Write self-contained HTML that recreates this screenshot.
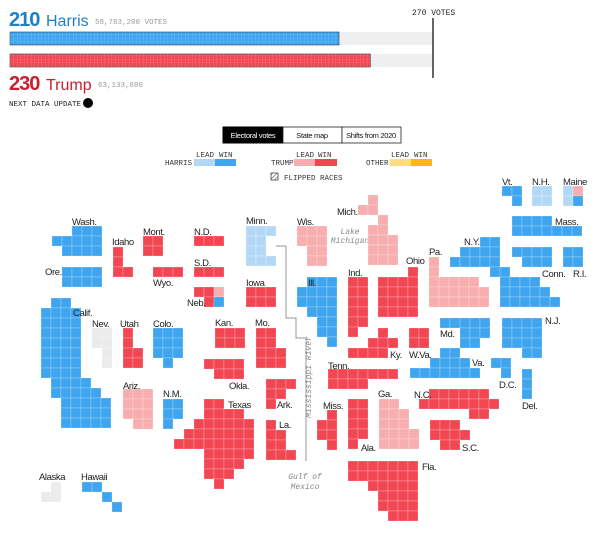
<!DOCTYPE html>
<html><head><meta charset="utf-8">
<style>
html,body{margin:0;padding:0;background:#fff;}
body{width:600px;height:534px;overflow:hidden;font-family:"Liberation Sans",sans-serif;}
svg{display:block}
.lbl{font-family:"Liberation Sans",sans-serif;font-size:9.5px;fill:#222;letter-spacing:-0.4px}
.mono{font-family:"Liberation Mono",monospace;}
.it{font-family:"Liberation Mono",monospace;font-style:italic;font-size:8px;fill:#888}
</style></head>
<body>
<svg id="chart" width="600" height="534" viewBox="0 0 600 534">
<defs>
<pattern id="gridp" width="3.5" height="3.5" patternUnits="userSpaceOnUse">
<path d="M3.5 0V3.5M0 3.5H3.5" stroke="#fff" stroke-opacity="0.35" stroke-width="0.6" fill="none"/>
</pattern>
<pattern id="hatch" width="3" height="3" patternUnits="userSpaceOnUse" patternTransform="rotate(45)">
<line x1="0" y1="0" x2="0" y2="3" stroke="#444" stroke-width="1"/>
</pattern>
</defs>
<g>
<text x="9" y="26" font-size="20" font-weight="bold" fill="#1d7fc4" letter-spacing="-1">210</text>
<text x="46" y="26" font-size="16" fill="#1d7fc4">Harris</text>
<text x="95" y="24" class="mono" font-size="7.5" fill="#999">58,783,200 VOTES</text>
<text x="412" y="15" class="mono" font-size="8" fill="#222">270 VOTES</text>
<g id="bars"></g>
<text x="9" y="90" font-size="20" font-weight="bold" fill="#c8202e" letter-spacing="-1">230</text>
<text x="46" y="90" font-size="16" fill="#c8202e">Trump</text>
<text x="98" y="87" class="mono" font-size="7.5" fill="#999">63,133,880</text>
<text x="9" y="106" class="mono" font-size="7.5" fill="#222">NEXT DATA UPDATE</text>
<circle cx="88" cy="103" r="5" fill="#000"/>
</g>
<g>
<rect x="223" y="127" width="60" height="16" fill="#000" stroke="#000"/>
<text x="253" y="138" font-size="7.5" fill="#fff" text-anchor="middle" letter-spacing="-0.3">Electoral votes</text>
<rect x="283" y="127" width="59" height="16" fill="#fff" stroke="#222" stroke-width="0.8"/>
<text x="312" y="138" font-size="7.5" fill="#111" text-anchor="middle" letter-spacing="-0.3">State map</text>
<rect x="342" y="127" width="59" height="16" fill="#fff" stroke="#222" stroke-width="0.8"/>
<text x="371" y="138" font-size="7.5" fill="#111" text-anchor="middle" letter-spacing="-0.3">Shifts from 2020</text>
</g>
<g class="mono" font-size="7.5" fill="#333">
<text x="196" y="157">LEAD</text><text x="219" y="157">WIN</text>
<text x="165" y="165">HARRIS</text>
<rect x="194" y="159" width="21" height="7" fill="#b3d8f6"/><rect x="215" y="159" width="21" height="7" fill="#3ea5ee"/>
<text x="296" y="157">LEAD</text><text x="318" y="157">WIN</text>
<text x="271" y="165">TRUMP</text>
<rect x="294" y="159" width="21" height="7" fill="#f8aeae"/><rect x="315" y="159" width="22" height="7" fill="#f24653"/>
<text x="391" y="157">LEAD</text><text x="414" y="157">WIN</text>
<text x="366" y="165">OTHER</text>
<rect x="390" y="159" width="21" height="7" fill="#fddc85"/><rect x="411" y="159" width="21" height="7" fill="#fdb714"/>
<rect x="271" y="173" width="7" height="7" fill="url(#hatch)" stroke="#444" stroke-width="0.8"/>
<text x="284" y="180">FLIPPED RACES</text>
</g>
<path d="M276 246H286V318H296V338H306V461" fill="none" stroke="#999" stroke-width="1"/>
<text class="it" x="350" y="234" text-anchor="middle" font-size="7.5">Lake</text>
<text class="it" x="350" y="243" text-anchor="middle" font-size="7.5">Michigan</text>
<text class="it" transform="translate(311,377) rotate(-90)" text-anchor="middle">Mississippi River</text>
<text class="it" x="305" y="479" text-anchor="middle">Gulf of</text>
<text class="it" x="305" y="489" text-anchor="middle">Mexico</text>
<g id="map"></g>
</svg>
<script>
const harrisEV = 210;
const trumpEV = 230;
const thresholdEV = 270;
const stateNames = ["Wash.","Ore.","Idaho","Mont.","N.D.","S.D.","Wyo.","Neb.","Minn.","Iowa","Calif.","Nev.","Utah","Colo.","Ariz.","N.M.","Kan.","Okla.","Mo.","Ark.","La.","Texas","Alaska","Hawaii","Wis.","Mich.","Ill.","Ind.","Ohio","Ky.","W.Va.","Pa.","N.Y.","Vt.","N.H.","Maine","Mass.","Conn.","R.I.","N.J.","Md.","Va.","D.C.","Del.","Tenn.","N.C.","S.C.","Ga.","Ala.","Miss.","Fla."];
const stateStatus = ["D","D","R","R","R","R","R","R","DL","R","D","U","R","D","RL","D","R","R","R","R","R","R","U","D","RL","RL","D","R","R","R","R","RL","D","D","DL","DL","D","D","D","D","D","D","D","D","R","R","R","RL","R","R","R"];
const stateOrigin = [[52,226],[62,267],[113,247],[143,236],[194,236],[194,267],[153,267],[194,287],[246,226],[246,287],[41,298],[92,328],[123,328],[153,328],[123,389],[163,399],[215,328],[204,359],[256,328],[266,379],[266,420],[174,399],[41,482],[82,482],[297,226],[358,195],[297,277],[348,277],[378,267],[348,328],[409,328],[429,257],[450,237],[502,186],[532,186],[563,186],[512,216],[512,247],[563,247],[502,318],[440,318],[410,348],[491,358],[522,369],[328,369],[419,389],[430,420],[379,399],[348,399],[317,410],[348,461]];
const stateCells = [
 [[2,0,3,1],[0,1,5,1],[1,2,4,1]],
 [[0,0,4,2]],
 [[0,0,1,3],[1,2,1,1]],
 [[0,0,2,2]],
 [[0,0,3,1]],
 [[0,0,3,1]],
 [[0,0,3,1]],
 [[0,0,2,1],[2,0,1,1,"RL"],[1,1,1,1],[2,1,1,1,"D"]],
 [[0,0,3,1],[0,1,2,2],[0,3,3,1]],
 [[0,0,3,2]],
 [[1,0,2,1],[0,1,4,7],[1,8,4,1],[1,9,5,1],[2,10,5,3]],
 [[0,0,2,2],[1,2,1,2]],
 [[0,0,1,4],[1,2,1,2]],
 [[0,0,3,3],[1,3,1,1]],
 [[0,0,3,3],[1,3,2,1]],
 [[0,0,2,2],[0,2,1,1]],
 [[0,0,3,2]],
 [[0,0,4,1],[1,1,3,1]],
 [[0,0,2,2],[0,2,3,2]],
 [[0,0,3,1],[0,1,2,1],[0,2,1,1]],
 [[0,0,1,1],[0,1,2,2],[0,3,3,1]],
 [[3,0,2,1],[3,1,4,1],[2,2,6,1],[1,3,7,1],[0,4,8,1],[3,5,5,1],[3,6,4,1],[3,7,3,1],[4,8,1,1]],
 [[1,0,1,1],[0,1,2,1]],
 [[0,0,2,1],[2,1,1,1],[3,2,1,1]],
 [[0,0,3,2],[1,2,2,2]],
 [[1,0,1,1],[0,1,2,1],[2,2,1,1],[1,3,2,1],[1,4,3,3]],
 [[1,0,3,1],[0,1,4,2],[1,3,3,1],[2,4,2,2],[3,6,1,1]],
 [[0,0,2,5],[0,5,1,1]],
 [[3,0,1,1],[0,1,4,4]],
 [[3,0,1,1],[2,1,3,1],[0,2,4,1]],
 [[0,0,2,2]],
 [[0,0,1,2],[0,2,5,1],[0,3,6,2]],
 [[3,0,2,1],[1,1,4,1],[0,2,5,1],[4,3,2,1],[5,4,4,1],[5,5,5,1],[5,6,6,1]],
 [[0,0,2,1],[1,1,1,1]],
 [[0,0,2,2]],
 [[0,0,1,2],[1,0,1,1,"RL"],[1,1,1,1,"D"]],
 [[0,0,4,1],[0,1,7,1]],
 [[0,0,4,1],[1,1,3,1]],
 [[0,0,2,2]],
 [[0,0,4,3],[2,3,2,1]],
 [[0,0,5,1],[2,1,3,1],[2,2,2,1]],
 [[3,0,2,1],[2,1,4,1],[0,2,7,1]],
 [[0,0,2,1],[1,1,1,1]],
 [[0,0,1,3]],
 [[0,0,7,1],[0,1,4,1]],
 [[1,0,6,1],[0,1,8,1],[5,2,2,1]],
 [[0,0,3,1],[0,1,4,1],[1,2,2,1]],
 [[0,0,2,1],[0,1,3,2],[0,3,4,2]],
 [[0,0,2,4],[0,4,1,1]],
 [[1,0,1,1],[0,1,2,2],[1,3,1,1]],
 [[0,0,7,2],[2,2,5,1],[3,3,4,2],[4,5,3,1]]
];
const labelPos = [[72,225],[45,275],[112,245],[143,235],[194,235],[194,266],[153,286],[187,306],[246,224],[246,286],[73,316],[92,327],[120,327],[153,327],[215,326],[255,326],[229,389],[228,408],[123,389],[163,397],[277,408],[279,428],[39,480],[81,480],[297,225],[337,215],[308,286],[348,276],[406,264],[429,255],[464,245],[542,277],[573,277],[502,185],[532,185],[563,185],[555,225],[545,324],[440,337],[390,358],[409,358],[472,366],[328,369],[499,388],[522,409],[414,398],[378,397],[323,409],[361,451],[462,451],[422,470]];
const labelText = ["Wash.","Ore.","Idaho","Mont.","N.D.","S.D.","Wyo.","Neb.","Minn.","Iowa","Calif.","Nev.","Utah","Colo.","Kan.","Mo.","Okla.","Texas","Ariz.","N.M.","Ark.","La.","Alaska","Hawaii","Wis.","Mich.","Ill.","Ind.","Ohio","Pa.","N.Y.","Conn.","R.I.","Vt.","N.H.","Maine","Mass.","N.J.","Md.","Ky.","W.Va.","Va.","Tenn.","D.C.","Del.","N.C.","Ga.","Miss.","Ala.","S.C.","Fla."];

const colors = {D:"#3ea5ee",DL:"#b3d8f6",R:"#f24653",RL:"#f8aeae",U:"#ebebeb"};
const NS = "http://www.w3.org/2000/svg";
const CELL = 10;
function mk(tag, attrs){const e=document.createElementNS(NS,tag);for(const k in attrs)e.setAttribute(k,attrs[k]);return e;}

const barX0 = 10, barX270 = 433;
function xEV(v){return barX0 + v*(barX270-barX0)/thresholdEV;}
const bars = document.getElementById('bars');
[[32,harrisEV,"#3ea5ee","harris-bar"],[54,trumpEV,"#f24653","trump-bar"]].forEach(function(b){
  const bg = mk('rect',{x:barX0,y:b[0],width:xEV(thresholdEV)-barX0,height:13,fill:"#eeeeee"});
  
  
  bars.appendChild(bg);
  const bgg = mk('rect',{x:barX0,y:b[0],width:xEV(thresholdEV)-barX0,height:13,fill:"url(#gridp)"});
  bars.appendChild(bgg);
  const r = mk('rect',{x:barX0,y:b[0],width:xEV(b[1])-barX0,height:13,fill:b[2],stroke:"#2a3a4a","stroke-width":"0.6"});
  
  
  bars.appendChild(r);
  const g = mk('rect',{x:barX0,y:b[0],width:xEV(b[1])-barX0,height:13,fill:"url(#gridp)"});
  bars.appendChild(g);
});
const tl = mk('line',{x1:xEV(thresholdEV),x2:xEV(thresholdEV),y1:18,y2:78,stroke:"#333","stroke-width":"1.5"});


bars.appendChild(tl);

const map = document.getElementById('map');
stateCells.forEach(function(rects, i){
  const g = mk('g',{});
  
  
  const o = stateOrigin[i];
  rects.forEach(function(c){
    const st = c[4] || stateStatus[i];
    for(let dx=0; dx<c[2]; dx++){
      for(let dy=0; dy<c[3]; dy++){
        const r = mk('rect',{x:o[0]+(c[0]+dx)*CELL,y:o[1]+(c[1]+dy)*CELL,width:CELL,height:CELL,fill:colors[st],stroke:"#fff","stroke-opacity":"0.45","stroke-width":"0.5"});
        
        
        g.appendChild(r);
      }
    }
  });
  map.appendChild(g);
});
labelText.forEach(function(t,i){
  const e = mk('text',{x:labelPos[i][0],y:labelPos[i][1],class:"lbl"});
  e.textContent = t;
  
  
  map.appendChild(e);
});
</script>
</body></html>
